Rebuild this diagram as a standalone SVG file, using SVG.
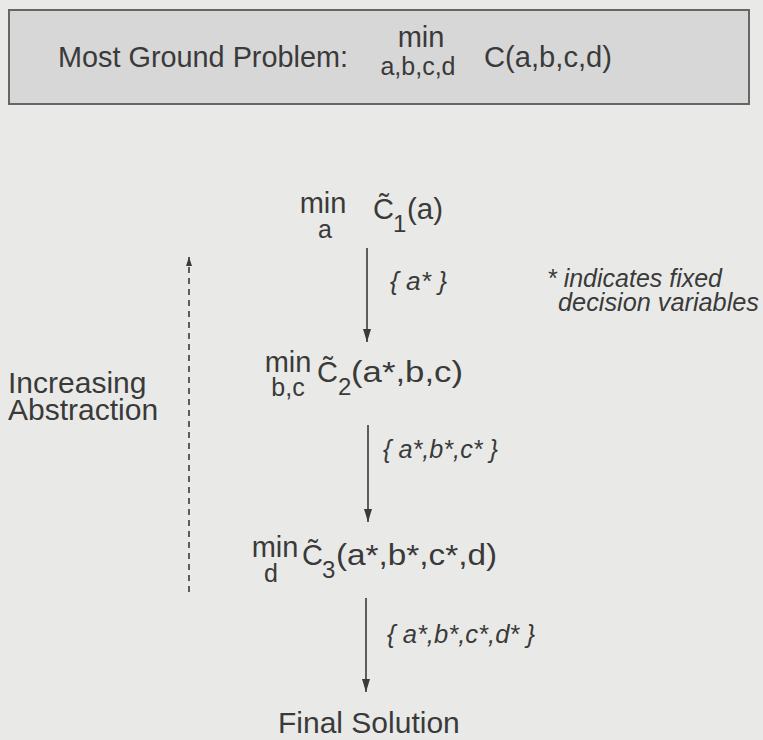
<svg xmlns="http://www.w3.org/2000/svg" width="763" height="740" viewBox="0 0 763 740">
<defs>
<marker id="ah" viewBox="0 0 13 8" refX="13" refY="4" markerWidth="13" markerHeight="8" markerUnits="userSpaceOnUse" orient="auto">
<path d="M0,0 L13,4 L0,8 Z" fill="#3a3a3a"/>
</marker>
<marker id="ahs" viewBox="0 0 9 6" refX="9" refY="3" markerWidth="9" markerHeight="6" markerUnits="userSpaceOnUse" orient="auto">
<path d="M0,0 L9,3 L0,6 Z" fill="#3a3a3a"/>
</marker>
<style>
text{font-family:"Liberation Sans",Arial,sans-serif;fill:#3a3a3a;}
.t{font-size:29px;}
.b{font-size:30px;}
.s{font-size:25px;}
.u{font-size:24px;}
.i{font-size:26px;font-style:italic;}
.c{stroke:#3a3a3a;stroke-width:1.6;fill:none;}
</style>
</defs>
<rect width="763" height="740" fill="#e9eae8"/>
<g id="ground">
<rect x="9" y="10" width="740" height="94" fill="#d6d7d6" stroke="#666" stroke-width="2"/>
<text class="t" x="58" y="67" textLength="290" lengthAdjust="spacingAndGlyphs">Most Ground Problem:</text>
<text class="t" x="421" y="47" text-anchor="middle">min</text>
<text class="s" x="418" y="75" text-anchor="middle">a,b,c,d</text>
<text class="t" x="484" y="67" textLength="128" lengthAdjust="spacingAndGlyphs">C(a,b,c,d)</text>
</g>
<g id="level1">
<text class="t" x="323" y="213" text-anchor="middle">min</text>
<text class="s" x="325" y="238" text-anchor="middle">a</text>
<text class="t" x="373" y="219">C&#x303;</text>
<text class="u" x="393" y="232">1</text>
<text class="t" x="407" y="219" textLength="36" lengthAdjust="spacingAndGlyphs">(a)</text>
</g>
<g id="level2">
<text class="t" x="288" y="372" text-anchor="middle">min</text>
<text class="s" x="288" y="396" text-anchor="middle">b,c</text>
<text class="t" x="317" y="382">C&#x303;</text>
<text class="u" x="338" y="395">2</text>
<text class="t" x="351" y="382" textLength="112" lengthAdjust="spacingAndGlyphs">(a*,b,c)</text>
</g>
<g id="level3">
<text class="t" x="275" y="557" text-anchor="middle">min</text>
<text class="s" x="271" y="582" text-anchor="middle">d</text>
<text class="t" x="302" y="565">C&#x303;</text>
<text class="u" x="322" y="578">3</text>
<text class="t" x="336" y="565" textLength="161" lengthAdjust="spacingAndGlyphs">(a*,b*,c*,d)</text>
</g>
<g id="final">
<text class="b" x="278" y="733">Final Solution</text>
</g>
<g id="note">
<text class="i" x="547" y="287" textLength="175" lengthAdjust="spacingAndGlyphs">* indicates fixed</text>
<text class="i" x="558" y="311" textLength="201" lengthAdjust="spacingAndGlyphs">decision variables</text>
</g>
<g id="abstraction">
<text class="b" x="8" y="393">Increasing</text>
<text class="b" x="8" y="420">Abstraction</text>
</g>
<g id="connectors">
<line class="c" x1="367" y1="248" x2="367" y2="342" marker-end="url(#ah)"/>
<text class="i" x="390" y="290" textLength="57" lengthAdjust="spacingAndGlyphs">{ a* }</text>
<line class="c" x1="368" y1="425" x2="368" y2="522" marker-end="url(#ah)"/>
<text class="i" x="383" y="458" textLength="115" lengthAdjust="spacingAndGlyphs">{ a*,b*,c* }</text>
<line class="c" x1="366" y1="598" x2="366" y2="692" marker-end="url(#ah)"/>
<text class="i" x="387" y="643" textLength="148" lengthAdjust="spacingAndGlyphs">{ a*,b*,c*,d* }</text>
<line class="c" x1="189" y1="592" x2="189" y2="257" stroke-dasharray="6,5" stroke-width="1.4" marker-end="url(#ahs)"/>
</g>
</svg>
